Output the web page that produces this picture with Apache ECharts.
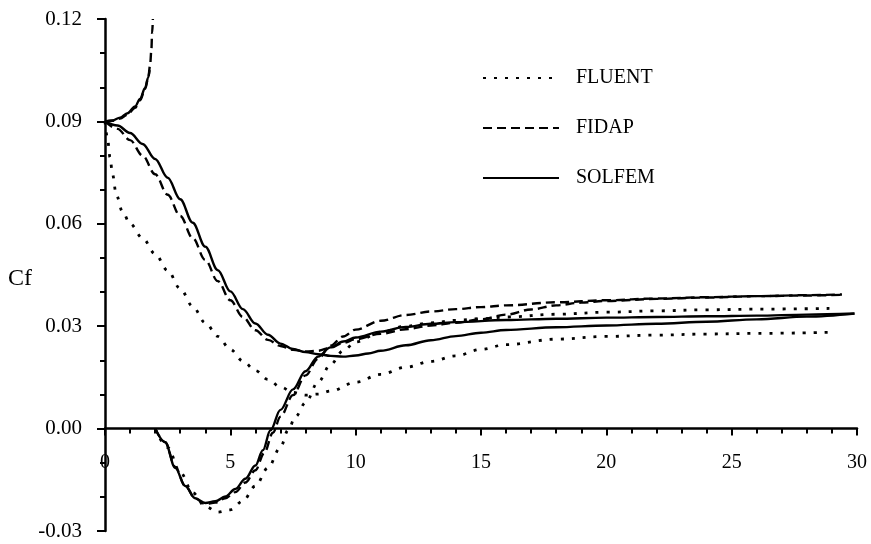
<!DOCTYPE html>
<html>
<head>
<meta charset="utf-8">
<title>Cf</title>
<script src="https://cdn.jsdelivr.net/npm/echarts@6.0.0/dist/echarts.min.js"></script>
<style>
  html, body { margin: 0; padding: 0; background: #fff; }
  #main { width: 871px; height: 544px; }
</style>
</head>
<body>
<div id="main"></div>
<script>
// 数据: [x, Cf]
var legendNames = ['FLUENT', 'FIDAP', 'SOLFEM'];
var xRange = [0, 30];
var yRange = [-0.03, 0.12];

// 下壁面 (从 0.09 开始下降)
var fluentLower = [[0,0.090],[0.1,0.085],[0.2,0.0795],[0.3,0.0745],[0.45,0.0685],[0.7,0.0635],[1.0,0.0600],[1.5,0.0558],[2.0,0.0512],[2.5,0.0463],[3.0,0.0410],[3.5,0.0358],[4.0,0.0310],[4.5,0.0270],[5.0,0.0232],[5.5,0.0198],[6.0,0.0170],[6.5,0.0144],[7.0,0.0122],[7.5,0.0106],[8.0,0.0098],[8.5,0.0101],[9.0,0.0110],[10,0.0136],[11,0.0159],[12,0.0180],[13,0.0197],[14,0.0213],[15,0.0232],[16,0.0246],[18,0.0262],[20,0.0270],[22,0.0274],[24,0.0277],[26,0.0279],[28.9,0.0282]];
var fidapLower = [[0,0.090],[0.5,0.0878],[1.0,0.0845],[1.5,0.0800],[2.0,0.0745],[2.5,0.0685],[3.0,0.0623],[3.5,0.0558],[4.0,0.0494],[4.5,0.0432],[5.0,0.0376],[5.5,0.0327],[6.0,0.0288],[6.5,0.0260],[7.0,0.0242],[7.5,0.0231],[8.0,0.0226],[8.5,0.0228],[9.0,0.0237],[9.5,0.0251],[10,0.0262],[11,0.0278],[12,0.0291],[13,0.0302],[14,0.0310],[15,0.0320],[16,0.0334],[17,0.0349],[18,0.0361],[19,0.0369],[20,0.0374],[22,0.0380],[24,0.0384],[26,0.0388],[28,0.0390],[29.4,0.0392]];
var solfemLower = [[0,0.090],[0.5,0.0888],[1.0,0.0866],[1.5,0.0834],[2.0,0.0790],[2.5,0.0735],[3.0,0.0672],[3.5,0.0603],[4.0,0.0533],[4.5,0.0464],[5.0,0.0402],[5.5,0.0350],[6.0,0.0308],[6.5,0.0275],[7.0,0.0249],[7.5,0.0233],[8.0,0.0224],[8.5,0.0218],[9.0,0.0213],[9.5,0.0211],[10,0.0214],[10.5,0.0220],[11,0.0228],[12,0.0244],[13,0.0259],[14,0.0271],[15,0.0281],[16,0.0289],[18,0.0297],[20,0.0302],[22,0.0307],[24,0.0313],[26,0.0320],[28,0.0328],[29.9,0.0337]];

// 上壁面 (x=0 附近向上, x>2 以后为负再回升)
var fidapRise = [[0,0.090],[0.3,0.0902],[0.6,0.0908],[0.9,0.0920],[1.2,0.0940],[1.4,0.0962],[1.6,0.0995],[1.72,0.1025],[1.8,0.1065],[1.85,0.111],[1.88,0.116],[1.91,0.120]];
var solfemRise = [[0,0.090],[0.3,0.0903],[0.6,0.0911],[0.9,0.0924],[1.2,0.0944],[1.4,0.0966],[1.6,0.0998],[1.72,0.1028],[1.78,0.105]];
var fluentUpper = [[2.0,0],[2.5,-0.0055],[3.0,-0.0128],[3.5,-0.0188],[4.0,-0.0228],[4.5,-0.0245],[5.0,-0.0238],[5.5,-0.0212],[6.0,-0.0168],[6.5,-0.0115],[7.0,-0.0055],[7.3,-0.0005],[7.6,0.0035],[8.0,0.0076],[8.5,0.0136],[9.0,0.0188],[9.5,0.0228],[10,0.0254],[11,0.0283],[12,0.0300],[13,0.0310],[14,0.0317],[15,0.0322],[16,0.0327],[18,0.0335],[20,0.0341],[22,0.0345],[24,0.0348],[26,0.0350],[28.9,0.0352]];
var fidapUpper = [[2.0,0],[2.4,-0.004],[2.8,-0.0112],[3.2,-0.0168],[3.6,-0.0205],[4.0,-0.0221],[4.4,-0.0217],[4.8,-0.0204],[5.2,-0.0186],[5.6,-0.0158],[6.0,-0.0122],[6.35,-0.0072],[6.7,-0.0012],[7.0,0.0035],[7.5,0.0098],[8.0,0.0156],[8.5,0.0205],[9.0,0.0243],[9.5,0.0270],[10,0.0290],[11,0.0316],[12,0.0333],[13,0.0343],[14,0.0350],[15,0.0356],[16,0.0361],[18,0.0370],[20,0.0376],[22,0.0381],[24,0.0385],[26,0.0388],[28,0.0391],[29.4,0.0393]];
var solfemUpper = [[2.0,0],[2.4,-0.004],[2.8,-0.0115],[3.2,-0.0168],[3.6,-0.0204],[4.0,-0.0218],[4.4,-0.0213],[4.8,-0.0199],[5.2,-0.0177],[5.6,-0.0147],[6.0,-0.0108],[6.3,-0.0063],[6.6,-0.0005],[7.0,0.0055],[7.5,0.0115],[8.0,0.0168],[8.5,0.0211],[9.0,0.0238],[9.5,0.0255],[10,0.0267],[11,0.0284],[12,0.0298],[13,0.0307],[14,0.0312],[16,0.0318],[18,0.0322],[20,0.0325],[22,0.0327],[24,0.0329],[26,0.0331],[28,0.0334],[29.9,0.0337]];

var FONT = 'Liberation Serif';
var INK = '#000';

// 网格: 高 512, x 轴放在 y=0 处
var GRID_H = 512;
var X_OFFSET = -GRID_H * (0 - yRange[0]) / (yRange[1] - yRange[0]);

// 三种线型
var dotted = { color: INK, width: 2.8, type: [3, 8] };
var dashed = { color: INK, width: 2.4, type: [9, 5] };
var solid = { color: INK, width: 2.4, type: 'solid' };

function curve(name, data, style) {
	return {
		name: name,
		type: 'line',
		data: data,
		symbol: 'none',
		smooth: 0.35,
		smoothMonotone: 'x',
		color: INK,
		lineStyle: style
	};
}

var series = [
	curve('FLUENT', fluentLower, dotted),
	curve('FLUENT', fluentUpper, dotted),
	curve('FIDAP', fidapLower, dashed),
	curve('FIDAP', fidapUpper, dashed),
	curve('FIDAP', fidapRise, dashed),
	curve('SOLFEM', solfemLower, solid),
	curve('SOLFEM', solfemUpper, solid),
	curve('SOLFEM', solfemRise, solid)
];

var myChart = echarts.init(document.getElementById('main'));
var option = {
	animation: false,
	title: {
		text: 'Cf',
		left: 8,
		top: 267,
		padding: 0,
		textStyle: { fontFamily: FONT, fontSize: 24, fontWeight: 'normal', color: INK }
	},
	legend: {
		data: legendNames,
		orient: 'vertical',
		left: 482,
		top: 68,
		padding: 0,
		itemWidth: 76,
		itemHeight: 14,
		itemGap: 30,
		selectedMode: false,
		itemStyle: { opacity: 0 },
		textStyle: { fontFamily: FONT, fontSize: 20, color: INK, lineHeight: 20, padding: [0, 0, 0, 12] }
	},
	grid: { left: 105, right: 14, top: 19, height: GRID_H, outerBoundsMode: 'none' },
	xAxis: {
		type: 'value',
		offset: X_OFFSET,
		min: xRange[0],
		max: xRange[1],
		interval: 5,
		axisLine: { show: true, onZero: false, lineStyle: { color: INK, width: 2.5 } },
		axisTick: { show: true, length: 7, lineStyle: { color: INK, width: 2 } },
		minorTick: { show: true, splitNumber: 5, length: 5, lineStyle: { color: INK, width: 2 } },
		splitLine: { show: false },
		axisLabel: { margin: 24, fontFamily: FONT, fontSize: 20, color: INK }
	},
	yAxis: {
		type: 'value',
		min: yRange[0],
		max: yRange[1],
		interval: 0.03,
		axisLine: { show: true, onZero: false, lineStyle: { color: INK, width: 2.5 } },
		axisTick: { show: true, length: 8, lineStyle: { color: INK, width: 2 } },
		minorTick: { show: true, splitNumber: 3, length: 5, lineStyle: { color: INK, width: 2 } },
		splitLine: { show: false },
		axisLabel: {
			margin: 23,
			fontFamily: FONT,
			fontSize: 21,
			color: INK,
			formatter: function(v) { return v.toFixed(2); }
		}
	},
	series: series
};
myChart.setOption(option);
</script>
</body>
</html>
